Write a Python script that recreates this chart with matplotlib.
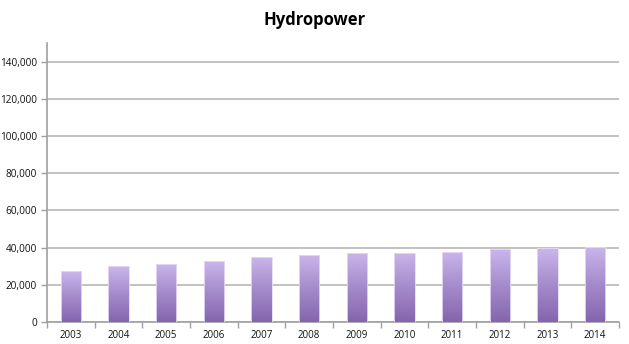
import matplotlib
matplotlib.use("Agg")
import matplotlib.pyplot as plt
import numpy as np
from matplotlib.colors import LinearSegmentedColormap
from matplotlib.ticker import FuncFormatter, MultipleLocator

years = ["2003", "2004", "2005", "2006", "2007", "2008", "2009", "2010", "2011", "2012", "2013", "2014"]
values = [27200, 29900, 31400, 32600, 35000, 36200, 37100, 37100, 37800, 39100, 39600, 40400]

W, H = 629, 344
fig = plt.figure(figsize=(W / 100, H / 100), dpi=100)
ax = fig.add_axes([47 / W, (H - 322) / H, (619 - 47) / W, (322 - 43) / H])

x = np.arange(len(years))
bars = ax.bar(x, values, width=0.42, color="none", edgecolor="none", zorder=3)

cmap = LinearSegmentedColormap.from_list("p", ["#8465ad", "#a58bcb", "#cbb6ec"])
grad = np.linspace(0, 1, 256).reshape(-1, 1)
for b in bars:
    bx, by = b.get_x(), b.get_y()
    bw, bh = b.get_width(), b.get_height()
    im = ax.imshow(grad, cmap=cmap, origin="lower", aspect="auto",
                   extent=[bx, bx + bw, by, by + bh], zorder=3, interpolation="bilinear")
    im.set_clip_path(b)
    ax.add_patch(plt.Rectangle((bx, by), bw, bh, fill=False, edgecolor="#e6dcf3", lw=0.6, zorder=4))

ax.set_xlim(-0.5, len(years) - 0.5)
ax.set_ylim(0, 150000)
ax.yaxis.set_major_locator(MultipleLocator(20000))
ax.yaxis.set_major_formatter(FuncFormatter(lambda v, p: f"{int(v):,}"))
ax.grid(axis="y", color="#bdbdbd", lw=1.3, zorder=0)
ax.set_axisbelow(True)

ax.set_xticks(x)
ax.set_xticklabels(years)
ax.set_xticks(np.arange(-0.5, len(years)), minor=True)
ax.tick_params(axis="x", which="major", length=0, pad=6, labelsize=7, labelcolor="#111111")
ax.tick_params(axis="x", which="minor", length=4, color="#a0a0a0", width=1)
ax.tick_params(axis="y", length=4, color="#a0a0a0", width=1, labelsize=7.2, labelcolor="#111111", pad=3)

for s in ["top", "right"]:
    ax.spines[s].set_visible(False)
for s in ["left", "bottom"]:
    ax.spines[s].set_color("#a0a0a0")
    ax.spines[s].set_linewidth(1.2)

for lab in ax.get_xticklabels() + ax.get_yticklabels():
    lab.set_family(["Open Sans", "DejaVu Sans"])

fig.text(315 / W, 1 - 20 / H, "Hydropower", ha="center", va="center",
         fontsize=12, fontweight="bold", family=["Open Sans", "DejaVu Sans"])

fig.savefig("out.png", dpi=100)
